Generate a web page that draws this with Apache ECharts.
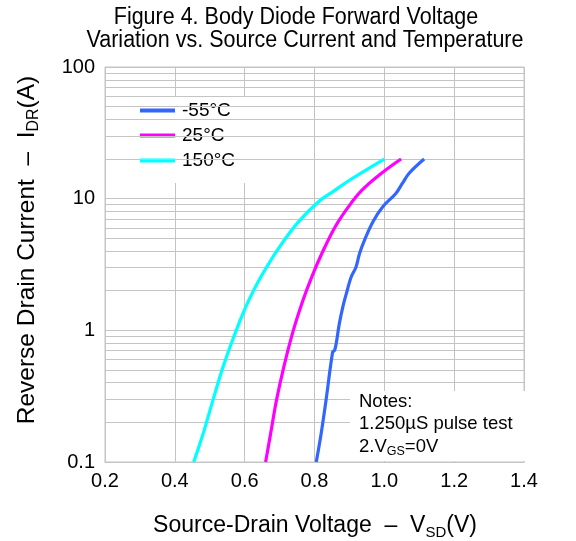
<!DOCTYPE html>
<html>
<head>
<meta charset="utf-8">
<script src="https://cdn.jsdelivr.net/npm/echarts@6/dist/echarts.min.js"></script>
<style>
html,body{margin:0;padding:0;background:#fff;}
#c{width:576px;height:541px;}
</style>
</head>
<body>
<div id="c"></div>
<script>
// ---- data ----
var seriesNames = ['-55°C', '25°C', '150°C'];
var vf_m55 = [0.805, 0.819, 0.833, 0.852, 0.857, 0.862, 0.871, 0.881, 0.890, 0.905, 0.919, 0.929, 0.943, 0.967, 0.995, 1.033, 1.052, 1.071, 1.114];
var id_m55 = [0.1, 0.164, 0.294, 0.684, 0.70, 0.79, 1.12, 1.50, 1.85, 2.54, 3.03, 3.83, 4.83, 6.66, 8.66, 10.96, 13.1, 15.6, 20];
var vf_25 = [0.660, 0.676, 0.691, 0.712, 0.738, 0.767, 0.792, 0.821, 0.859, 0.897, 0.936, 0.992, 1.048];
var id_25 = [0.1, 0.174, 0.294, 0.526, 0.97, 1.69, 2.54, 3.83, 6.1, 8.66, 11.6, 15.6, 20];
var vf_150 = [0.454, 0.481, 0.509, 0.538, 0.574, 0.600, 0.621, 0.652, 0.700, 0.754, 0.814, 0.857, 0.900, 1.0];
var id_150 = [0.1, 0.164, 0.294, 0.526, 0.97, 1.44, 1.90, 2.70, 4.30, 6.66, 9.6, 11.5, 13.8, 20];
var xTicks = [0.2, 0.4, 0.6, 0.8, 1.0, 1.2, 1.4];
var yTicks = [0.1, 1, 10, 100];
var yMinorGrid = [0.2, 0.3, 0.4, 0.5, 0.6, 0.7, 0.8, 0.9, 2, 3, 4, 5, 6, 7, 8, 9, 20, 30, 40, 50, 60, 70, 80, 90];
var titleLines = ['Figure 4. Body Diode Forward Voltage', 'Variation vs. Source Current and Temperature'];
var notes = ['Notes:', '1.250µS pulse test'];

function pairs(xs, ys) { return xs.map(function (x, i) { return [x, ys[i]]; }); }

var FONT = '"Liberation Sans", Arial, sans-serif';
var GRID = '#c4c4c4';
var colors = ['#3366ff', '#ff00ff', '#00ffff'];

var chart = echarts.init(document.getElementById('c'), null, {renderer: 'canvas'});

var option = {
  backgroundColor: '#fff',
  animation: false,
  grid: {left: 105, right: 52, top: 67, bottom: 79, show: true, borderColor: GRID, borderWidth: 1},
  xAxis: {
    type: 'value', min: xTicks[0], max: xTicks[xTicks.length - 1], interval: 0.2,
    axisLine: {show: true, lineStyle: {color: GRID}},
    axisTick: {show: false},
    splitLine: {show: true, lineStyle: {color: GRID, width: 1}},
    axisLabel: {margin: 9, color: '#000', fontSize: 20, fontFamily: FONT,
      formatter: function (v) { return v.toFixed(1); }}
  },
  yAxis: {
    type: 'log', logBase: 10, min: yTicks[0], max: yTicks[yTicks.length - 1],
    axisLine: {show: true, lineStyle: {color: GRID}},
    axisTick: {show: false},
    splitLine: {show: true, lineStyle: {color: GRID, width: 1}},
    axisLabel: {margin: 10, color: '#000', fontSize: 20, fontFamily: FONT,
      formatter: function (v) { return v < 1 ? String(+v.toFixed(1)) : String(Math.round(v)); }}
  },
  legend: {
    data: seriesNames,
    orient: 'vertical', left: 132, top: 96,
    backgroundColor: '#fff',
    padding: [4, 10, 12, 8],
    itemGap: 4, itemWidth: 35, itemHeight: 4, icon: 'rect',
    textStyle: {fontSize: 19, fontFamily: FONT, color: '#000', lineHeight: 21, padding: [0, 0, 0, 2]}
  },
  series: [
    {
      name: '_grid', type: 'line', data: [], silent: true, z: 1,
      markLine: {
        silent: true, symbol: 'none', animation: false,
        label: {show: false},
        lineStyle: {color: GRID, type: 'solid', width: 1},
        data: yMinorGrid.map(function (v) { return {yAxis: v}; })
      }
    },
    {name: seriesNames[0], type: 'line', data: pairs(vf_m55, id_m55), showSymbol: false, smooth: 0.35,
      lineStyle: {color: colors[0], width: 3.2}, itemStyle: {color: colors[0]}, z: 5},
    {name: seriesNames[1], type: 'line', data: pairs(vf_25, id_25), showSymbol: false, smooth: 0.4,
      lineStyle: {color: colors[1], width: 3.2}, itemStyle: {color: colors[1]}, z: 5},
    {name: seriesNames[2], type: 'line', data: pairs(vf_150, id_150), showSymbol: false, smooth: 0.4,
      lineStyle: {color: colors[2], width: 3.2}, itemStyle: {color: colors[2]}, z: 5}
  ],
  graphic: [
    {type: 'text', x: 296, y: 30, scaleY: 1.15, z: 100,
      style: {text: titleLines[0], fontSize: 21.5, fontFamily: FONT, fill: '#000', align: 'center', textAlign: 'center', verticalAlign: 'bottom', textVerticalAlign: 'bottom'}},
    {type: 'text', x: 305, y: 53, scaleY: 1.15, z: 100,
      style: {text: titleLines[1], fontSize: 21.5, fontFamily: FONT, fill: '#000', align: 'center', textAlign: 'center', verticalAlign: 'bottom', textVerticalAlign: 'bottom'}},
    // x axis name
    {type: 'text', x: 315, y: 526, z: 100,
      style: {
        text: '{m|Source-Drain Voltage  –  V}{s|SD}{m|(V)}',
        align: 'center', textAlign: 'center', verticalAlign: 'middle', textVerticalAlign: 'middle',
        fill: '#000', fontFamily: FONT,
        rich: {
          m: {fontSize: 23, fontFamily: FONT, fill: '#000', lineHeight: 28},
          s: {fontSize: 15, fontFamily: FONT, fill: '#000', lineHeight: 14, verticalAlign: 'bottom'}
        }
      }},
    // y axis name
    {type: 'text', x: 27, y: 250, rotation: Math.PI / 2, z: 100,
      style: {
        text: '{m|Reverse Drain Current  –  I}{s|DR}{m|(A)}',
        align: 'center', textAlign: 'center', verticalAlign: 'middle', textVerticalAlign: 'middle',
        fill: '#000', fontFamily: FONT,
        rich: {
          m: {fontSize: 24.5, fontFamily: FONT, fill: '#000', lineHeight: 29},
          s: {fontSize: 16, fontFamily: FONT, fill: '#000', lineHeight: 14, verticalAlign: 'bottom'}
        }
      }},
    // notes box
    {type: 'group', left: 350, top: 391, z: 100, children: [
      {type: 'rect', shape: {x: 0, y: 0, width: 175, height: 70}, style: {fill: '#fff'}, z: 100},
      {type: 'text', x: 9, y: 11, z: 101,
        style: {text: notes[0], fontSize: 18.5, fontFamily: FONT, fill: '#000', verticalAlign: 'middle', textVerticalAlign: 'middle'}},
      {type: 'text', x: 9, y: 33, z: 101,
        style: {text: notes[1], fontSize: 18.5, fontFamily: FONT, fill: '#000', verticalAlign: 'middle', textVerticalAlign: 'middle'}},
      {type: 'text', x: 9, y: 56, z: 101,
        style: {text: '{m|2.V}{s|GS}{m|=0V}', fill: '#000', fontFamily: FONT, verticalAlign: 'middle', textVerticalAlign: 'middle',
          rich: {
            m: {fontSize: 18.5, fontFamily: FONT, fill: '#000', lineHeight: 22},
            s: {fontSize: 12.5, fontFamily: FONT, fill: '#000', lineHeight: 11, verticalAlign: 'bottom'}
          }}}
    ]}
  ]
};
chart.setOption(option);
</script>
</body>
</html>
